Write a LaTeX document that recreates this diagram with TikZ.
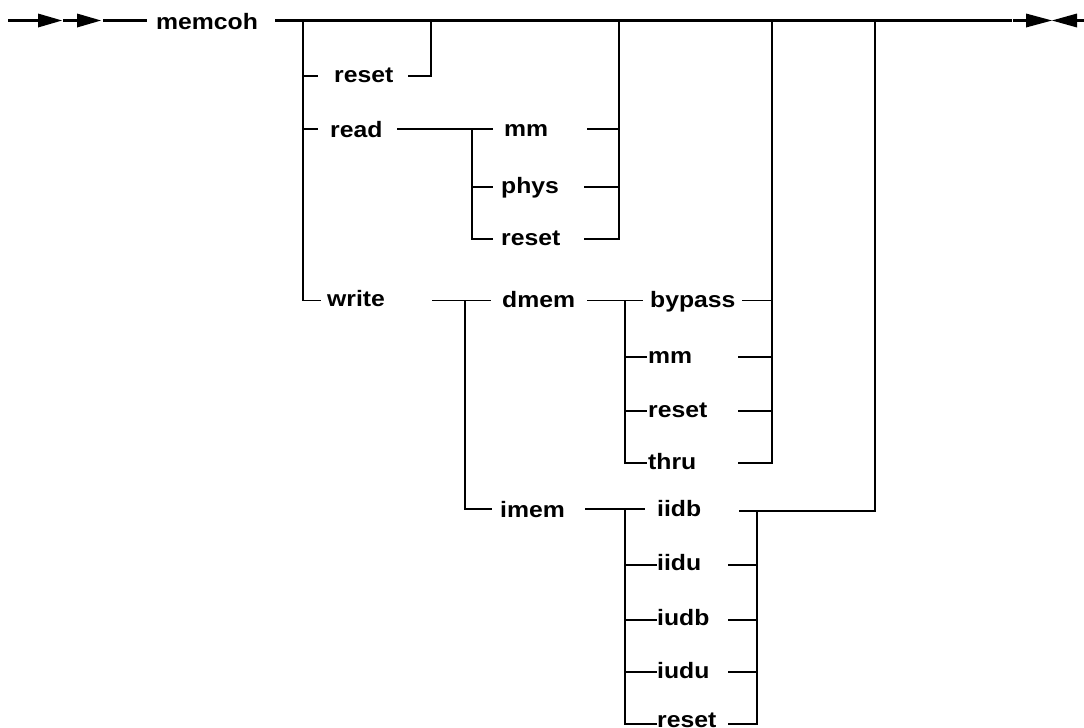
\documentclass[tikz,border=0pt]{standalone}
\usepackage{fontspec}
\newfontfamily\rrfont{Liberation Sans}[FakeStretch=1.11]
\tikzset{
  lbl/.style={anchor=base west, inner sep=0pt, font=\rrfont\bfseries\fontsize{22.3}{26}\selectfont},
  rail/.style={line width=1.4pt},
  mainrail/.style={line width=2.6pt},
  tipfill/.style={fill=black},
}
\begin{document}
\begin{tikzpicture}[x=1pt,y=-1pt]
\useasboundingbox (0,0) rectangle (1084,728);
% ---------- main line coordinates
\coordinate (s0) at (8,20.5);
\coordinate (a1) at (38,20.5);
\coordinate (a1t) at (63,20.5);
\coordinate (a2) at (77,20.5);
\coordinate (a2t) at (103,20.5);
\coordinate (m1) at (147,20.5);
\coordinate (m2) at (275,20.5);
\coordinate (jA) at (303,20.5);
\coordinate (jB) at (431,20.5);
\coordinate (jC) at (619,20.5);
\coordinate (jD) at (772,20.5);
\coordinate (jE) at (875,20.5);
\coordinate (m3) at (1012,20.5);
\coordinate (e1) at (1013,20.5);
\coordinate (e2) at (1026,20.5);
\coordinate (e3) at (1077,20.5);
\coordinate (e4) at (1084,20.5);
% ---------- arrowheads
\fill[tipfill] (38,13.5) -- (62,20.5) -- (38,27.5) -- cycle;
\fill[tipfill] (77,13.5) -- (101,20.5) -- (77,27.5) -- cycle;
\fill[tipfill] (1026,13.5) -- (1052,20.5) -- (1026,27.5) -- cycle;
\fill[tipfill] (1077,13.5) -- (1052,20.5) -- (1077,27.5) -- cycle;
% ---------- labels
\node[lbl] (memcoh) at (156,29) {memcoh};
\node[lbl] (reset1) at (334,82) {reset};
\node[lbl] (read) at (330,137) {read};
\node[lbl] (write) at (327,306) {write};
\node[lbl] (mm1) at (504,136) {mm};
\node[lbl] (phys) at (501,193) {phys};
\node[lbl] (reset2) at (501,245) {reset};
\node[lbl] (dmem) at (502,307) {dmem};
\node[lbl] (imem) at (500,517) {imem};
\node[lbl] (bypass) at (650,307) {bypass};
\node[lbl] (mm2) at (648,363) {mm};
\node[lbl] (reset3) at (648,417) {reset};
\node[lbl] (thru) at (648,469) {thru};
\node[lbl] (iidb) at (657,516) {iidb};
\node[lbl] (iidu) at (657,570) {iidu};
\node[lbl] (iudb) at (657,625) {iudb};
\node[lbl] (iudu) at (657,678) {iudu};
\node[lbl] (reset4) at (657,727.5) {reset};
% ---------- main rail
\draw[mainrail] (s0) -- (a1);
\draw[mainrail] (a1t) -- (a2);
\draw[mainrail] (a2t) -- (m1);
\draw[mainrail] (m2) -- (m3);
\draw[mainrail] (e1) -- (e2);
\draw[mainrail] (e3) -- (e4);
% ---------- first level branches
\coordinate (r1y) at (303,76);
\coordinate (r2y) at (303,129);
\coordinate (wy) at (303,300.5);
\draw[rail] (jA) -- (wy) -- (321,300.5);
\draw[rail] (r1y) -- (318,76);
\draw[rail] (408,76) -- (431,76) -- (jB);
\draw[rail] (r2y) -- (318,129);
% read sub-branches
\coordinate (rdL) at (397,129);
\coordinate (rdJ) at (472,129);
\coordinate (rdJb) at (472,239);
\draw[rail] (rdL) -- (493,129);
\draw[rail] (rdJ) -- (rdJb) -- (493,239);
\draw[rail] (472,187) -- (493,187);
\draw[rail] (587,129) -- (619,129);
\draw[rail] (584,187) -- (619,187);
\draw[rail] (584,239) -- (619,239) -- (jC);
% write sub-branches
\coordinate (wrL) at (432,300.5);
\coordinate (wrJ) at (465,300.5);
\coordinate (wrJb) at (465,509);
\draw[rail] (wrL) -- (491,300.5);
\draw[rail] (wrJ) -- (wrJb) -- (492,509);
% dmem sub-branches
\coordinate (dmL) at (587,300.5);
\coordinate (dmJ) at (625,300.5);
\coordinate (dmJb) at (625,463);
\draw[rail] (dmL) -- (643,300.5);
\draw[rail] (dmJ) -- (dmJb) -- (647,463);
\draw[rail] (625,357) -- (647,357);
\draw[rail] (625,411) -- (647,411);
\draw[rail] (742,300.5) -- (772,300.5);
\draw[rail] (738,357) -- (772,357);
\draw[rail] (738,411) -- (772,411);
\draw[rail] (738,463) -- (772,463) -- (jD);
% imem sub-branches
\coordinate (imL) at (585,509);
\coordinate (imJ) at (625,509);
\coordinate (imJb) at (625,724);
\draw[rail] (imL) -- (645,509);
\draw[rail] (imJ) -- (imJb) -- (657,724);
\draw[rail] (625,565) -- (657,565);
\draw[rail] (625,620) -- (657,620);
\draw[rail] (625,672) -- (657,672);
\draw[rail] (739,511) -- (875,511) -- (jE);
\draw[rail] (757,510) -- (757,724) -- (728,724);
\draw[rail] (728,565) -- (757,565);
\draw[rail] (728,620) -- (757,620);
\draw[rail] (728,672) -- (757,672);
\end{tikzpicture}
\end{document}
